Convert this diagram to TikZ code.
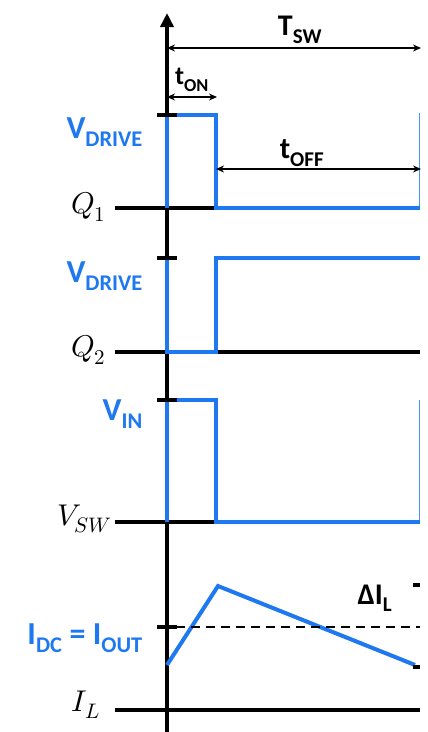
\documentclass[tikz,border=0pt]{standalone}
\usepackage{fontspec}
\usepackage{unicode-math}
\setmathfont{Latin Modern Math}
\newfontfamily\calfont{Carlito}
\usetikzlibrary{arrows.meta}
\definecolor{wblue}{RGB}{30,120,240}
\begin{document}
\begin{tikzpicture}[x=1pt,y=-1pt,
  axis/.style={line width=4pt,black},
  wave/.style={line width=4pt,wblue,line join=miter},
  tickmark/.style={line width=4pt,black},
  dim/.style={line width=1.5pt,black,{Stealth[length=8pt,width=7pt]}-{Stealth[length=8pt,width=7pt]}},
  edge/.style={line width=0.8pt,wblue!80},
  blab/.style={text=wblue,font=\calfont\bfseries\fontsize{32}{32}\selectfont,inner sep=0pt},
  klab/.style={text=black,font=\calfont\bfseries\fontsize{30}{30}\selectfont,inner sep=0pt},
  mlab/.style={text=black,font=\fontsize{30}{30}\selectfont,inner sep=0pt}]
\useasboundingbox (0,0) rectangle (428,732);
% coordinates
\coordinate (top) at (167,13);
\coordinate (bot) at (167,732);
\coordinate (sw0) at (167,48);
\coordinate (sw1) at (421,48);
\coordinate (on0) at (167,97);
\coordinate (on1) at (217,97);
\coordinate (off0) at (216,169);
\coordinate (off1) at (421,169);
% axis
\draw[axis,-{Triangle[length=14pt,width=13pt]}] (bot) -- (top);
% baselines
\draw[axis] (115,208) -- (216,208);
\draw[axis] (115,352) -- (420,352);
\draw[axis] (115,522) -- (216,522);
\draw[axis] (115,710) -- (420,710);
% thin right edges
\draw[edge] (419,113) -- (419,208);
\draw[edge] (419,400) -- (419,522);
% waves
\draw[wave] (167,208) -- (167,115) -- (216,115) -- (216,208) -- (420,208);
\draw[wave] (167,258) -- (167,352) -- (216,352) -- (216,258) -- (420,258);
\draw[wave] (167,522) -- (167,400) -- (216,400) -- (216,522) -- (420,522);
\draw[wave] (167,665) -- (218,586) -- (415,665);
% dashed
\draw[line width=1.8pt,dash pattern=on 9pt off 6pt] (176,627) -- (420,627);
% ticks
\draw[tickmark] (157,115) -- (177,115);
\draw[tickmark] (157,258) -- (177,258);
\draw[tickmark] (157,400) -- (177,400);
\draw[tickmark] (157,627) -- (177,627);
\draw[tickmark] (413,585) -- (420,585);
\draw[tickmark] (413,667) -- (420,667);
% dimension arrows
\draw[dim] (sw0) -- (sw1);
\draw[dim] (on0) -- (on1);
\draw[dim] (off0) -- (off1);
% labels
\node[klab] (tsw) at (300,30) {T\textsubscript{SW}};
\node[klab,font=\calfont\bfseries\fontsize{26}{26}\selectfont] (ton) at (192,80) {t\textsubscript{ON}};
\node[klab] (toff) at (302,153) {t\textsubscript{OFF}};
\node[blab,anchor=east] (vd1) at (143,132) {V\textsubscript{DRIVE}};
\node[blab,anchor=east] (vd2) at (143,276) {V\textsubscript{DRIVE}};
\node[blab,anchor=east] (vin) at (143,414) {V\textsubscript{IN}};
\node[blab,anchor=east] (idc) at (143,638) {I\textsubscript{DC} = I\textsubscript{OUT}};
\node[klab] (dil) at (375,598) {ΔI\textsubscript{L}};
\node[mlab,anchor=east] (q1) at (106,207) {$Q_1$};
\node[mlab,anchor=east] (q2) at (106,350) {$Q_2$};
\node[mlab,anchor=east] (vsw) at (112,519) {$V_{SW}$};
\node[mlab,anchor=east] (il) at (100,705) {$I_L$};
\end{tikzpicture}
\end{document}
